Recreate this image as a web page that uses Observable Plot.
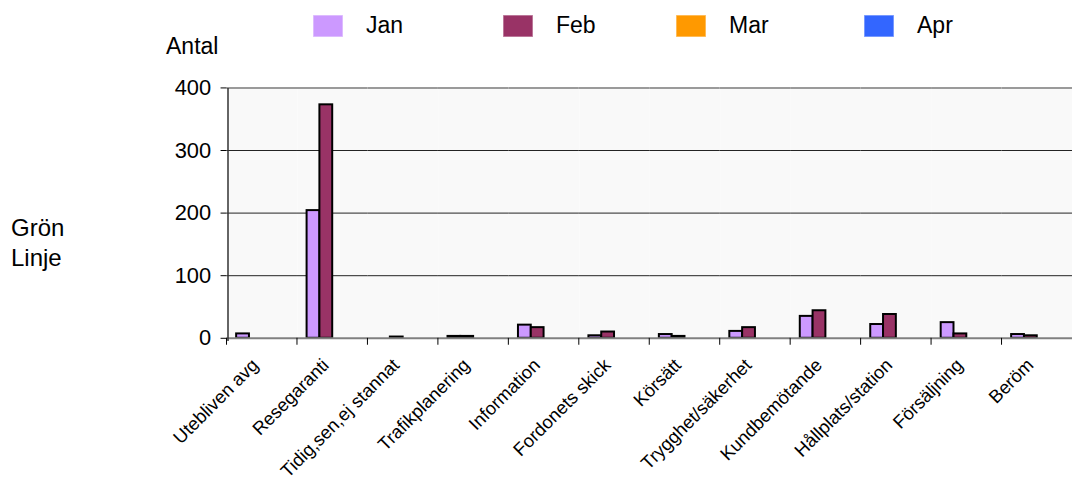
<!DOCTYPE html>
<html>
<head>
<meta charset="utf-8">
<script src="https://cdn.jsdelivr.net/npm/d3@7"></script>
<script src="https://cdn.jsdelivr.net/npm/@observablehq/plot@0.6"></script>
<style>
  html, body { margin: 0; padding: 0; background: #fff; overflow: hidden; }
  #wrap { position: relative; width: 1072px; height: 480px; overflow: hidden; }
  #wrap svg { position: absolute; left: 0; top: 0; }
</style>
</head>
<body>
<div id="wrap"></div>
<script>
// ---- data ----
const categories = ["Utebliven avg", "Resegaranti", "Tidig,sen,ej stannat", "Trafikplanering", "Information", "Fordonets skick", "Körsätt", "Trygghet/säkerhet", "Kundbemötande", "Hållplats/station", "Försäljning", "Beröm"];
const series = ["Jan", "Feb", "Mar", "Apr"];
const seriesColors = ["#cc99ff", "#993366", "#ff9900", "#3366ff"];
const jan = [7, 204, 0, 3, 21, 4, 6, 11, 35, 22, 25, 6];
const feb = [0, 373, 2, 3, 17, 10, 3, 17, 44, 38, 7, 4];
const yTicks = [0, 100, 200, 300, 400];
const yLabel = "Antal";
const sideTitle = ["Grön", "Linje"];

// ---- build table ----
const rows = [];
categories.forEach((c, i) => {
  rows.push({cat: c, series: "Jan", value: jan[i]});
  rows.push({cat: c, series: "Feb", value: feb[i]});
});
const drawn = rows.filter(d => d.value > 0);

const narrow = "'Liberation Sans Narrow', 'Liberation Sans', Arial, sans-serif";
const regular = "'Liberation Sans', Arial, sans-serif";

// one small tick at the left edge of every category facet
function facetTick(index, scales, values, dims) {
  const y0 = scales.y(0);
  const g = d3.create("svg:g");
  g.append("line")
    .attr("x1", dims.marginLeft).attr("x2", dims.marginLeft)
    .attr("y1", y0).attr("y2", y0 + 7)
    .attr("stroke", "#000").attr("stroke-width", 1);
  return g.node();
}

const chart = Plot.plot({
  width: 1079,
  height: 480,
  marginLeft: 228,
  marginRight: 0,
  marginTop: 88,
  marginBottom: 140,
  style: {fontFamily: narrow, fontSize: "18px", color: "#000", background: "transparent", overflow: "visible"},
  fx: {domain: categories, padding: 0, round: false, label: null},
  x: {domain: series, paddingInner: 0, paddingOuter: 0.75, round: false, axis: null},
  y: {domain: [0, 400], label: null},
  color: {domain: series, range: seriesColors},
  marks: [
    Plot.frame({fill: "#f9f9f9", stroke: "none"}),
    Plot.gridY(yTicks.filter(v => v > 0 && v < 400), {stroke: "#222", strokeOpacity: 1, strokeWidth: 1}),
    Plot.ruleY([400], {stroke: "#9a9a9a", strokeWidth: 2}),
    Plot.barY(drawn, {fx: "cat", x: "series", y: "value", fill: "series", stroke: "#000", strokeWidth: 2}),
    Plot.ruleY([0], {stroke: "#808080", strokeWidth: 2}),
    Plot.axisY({ticks: yTicks, tickSize: 6, tickPadding: 10, fontSize: 22, label: null}),
    Plot.axisFx({anchor: "bottom", tickRotate: -45, tickSize: 0, tickPadding: 12, dx: -7, dy: 12, fontSize: 18.5, label: null}),
    facetTick
  ]
});

const wrap = document.getElementById("wrap");
wrap.appendChild(chart);

// ---- overlay: y axis line, legend and titles ----
const ov = d3.select(wrap).append("svg")
  .attr("width", 1072).attr("height", 480)
  .style("pointer-events", "none");

const fxS = chart.scale("fx");
const yS = chart.scale("y");
if (fxS && yS) {
  const x0 = fxS.apply(categories[0]);
  ov.append("line")
    .attr("x1", x0).attr("x2", x0)
    .attr("y1", yS.apply(0) + 1).attr("y2", yS.apply(yTicks[yTicks.length - 1]))
    .attr("stroke", "#333").attr("stroke-width", 1.5);
}

const legendX = [313, 503, 676, 864];
const lg = ov.selectAll("g.lg").data(series).join("g")
  .attr("class", "lg")
  .attr("transform", (d, i) => `translate(${legendX[i]},15)`);
lg.append("rect")
  .attr("width", 30).attr("height", 22)
  .attr("fill", (d, i) => seriesColors[i])
  .attr("stroke", "#fff").attr("stroke-opacity", 0.45).attr("stroke-width", 1.5);
lg.append("text")
  .attr("x", 53).attr("y", 18)
  .attr("font-family", narrow).attr("font-size", 23)
  .text(d => d);

ov.append("text")
  .attr("x", 166).attr("y", 54)
  .attr("font-family", narrow).attr("font-size", 23)
  .text(yLabel);

ov.selectAll("text.side").data(sideTitle).join("text")
  .attr("class", "side")
  .attr("x", 11).attr("y", (d, i) => 236 + i * 30)
  .attr("font-family", regular).attr("font-size", 24)
  .text(d => d);
</script>
</body>
</html>
